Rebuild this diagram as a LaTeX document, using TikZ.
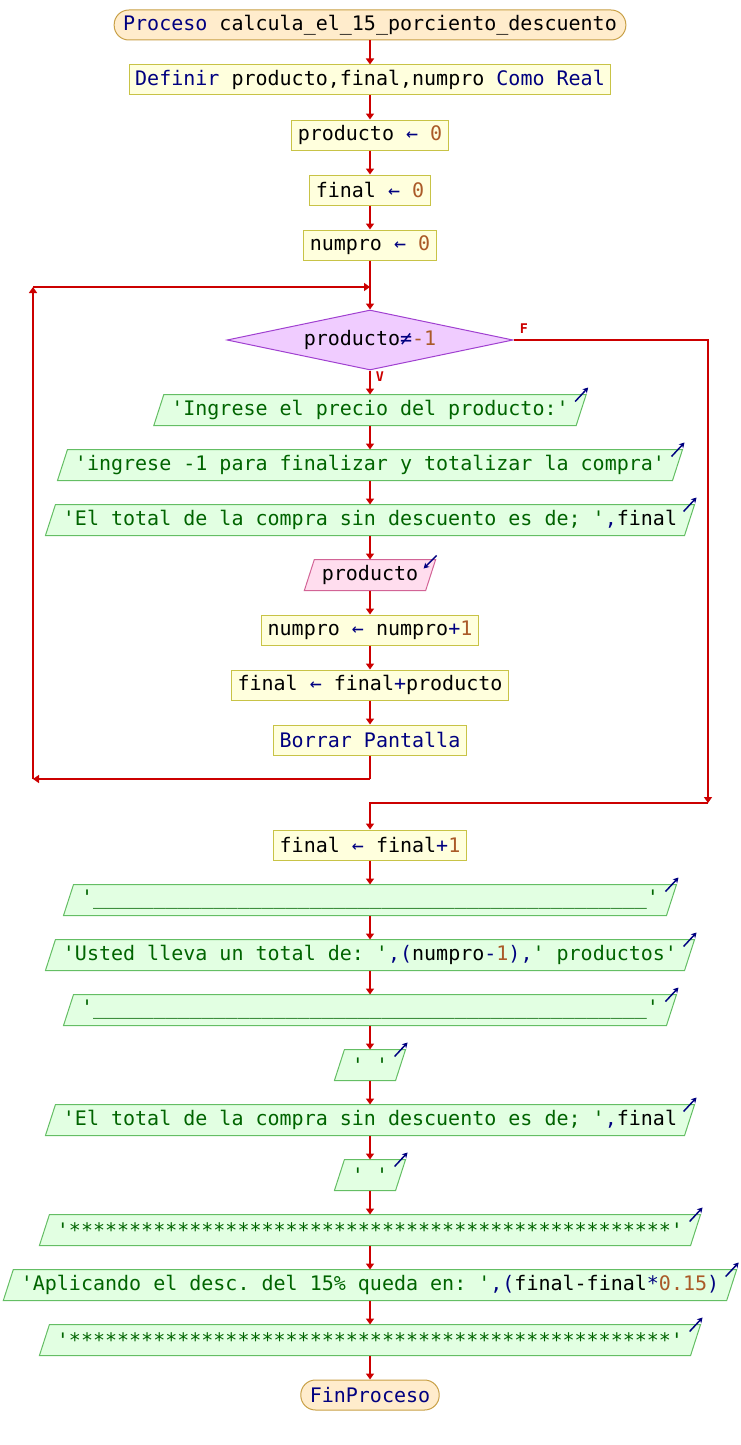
\documentclass[tikz,border=0pt]{standalone}
\usepackage{fontspec}
\setmonofont{DejaVu Sans Mono}
\usetikzlibrary{shapes.geometric,arrows.meta,backgrounds}

\definecolor{rojo}{RGB}{204,0,0}
\definecolor{azul}{RGB}{0,0,128}
\definecolor{verde}{RGB}{0,100,0}
\definecolor{marron}{RGB}{170,90,40}
\definecolor{termfondo}{RGB}{255,236,204}
\definecolor{termborde}{RGB}{200,160,70}
\definecolor{procfondo}{RGB}{255,255,221}
\definecolor{procborde}{RGB}{200,195,70}
\definecolor{salfondo}{RGB}{226,255,226}
\definecolor{salborde}{RGB}{100,190,100}
\definecolor{entfondo}{RGB}{255,221,238}
\definecolor{entborde}{RGB}{210,100,150}
\definecolor{condfondo}{RGB}{240,204,255}
\definecolor{condborde}{RGB}{160,64,208}

\newcommand{\pkw}[1]{\textcolor{azul}{#1}}
\newcommand{\pop}[1]{\textcolor{azul}{#1}}
\newcommand{\pstr}[1]{\textcolor{verde}{#1}}
\newcommand{\pnum}[1]{\textcolor{marron}{#1}}

\tikzset{
  base/.style={font=\ttfamily\fontsize{15}{18}\selectfont, inner ysep=0pt, minimum height=22.5pt, line width=0.75pt},
  term/.style={base, draw=termborde, fill=termfondo, rounded corners=11pt, inner xsep=6.75pt},
  proc/.style={base, draw=procborde, fill=procfondo, inner xsep=4.5pt},
  cond/.style={base, diamond, draw=condborde, fill=condfondo, inner sep=0pt, minimum width=214.5pt, minimum height=45pt, aspect=4.77},
  salida/.style={base, inner xsep=9pt},
  marcosal/.style={draw=salborde, fill=salfondo, line width=0.75pt},
  marcoent/.style={draw=entborde, fill=entfondo, line width=0.75pt},
  flecha/.style={draw=rojo, line width=1.5pt, -{Triangle[length=4.5pt,width=6pt]}},
  linea/.style={draw=rojo, line width=1.5pt},
  icono/.style={draw=azul, line width=1.1pt, -{Stealth[length=4pt,width=4.5pt]}},
  rama/.style={text=rojo, inner sep=0pt, font=\ttfamily\bfseries\fontsize{10}{10}\selectfont}
}

\begin{document}
\begin{tikzpicture}[x=0.75pt,y=0.75pt,yscale=-1,xscale=1]
	\useasboundingbox (0,0) rectangle (740,1445);
	
	% Proceso
	\node [term] (inicio) at (370,25) {\pkw{Proceso} calcula\_el\_15\_porciento\_descuento};
	\node [proc] (definir) at (370,80) {\pkw{Definir} producto,final,numpro \pkw{Como Real}};
	\node [proc] (asig1) at (370,135) {producto \pop{←} \pnum{0}};
	\node [proc] (asig2) at (370,190) {final \pop{←} \pnum{0}};
	\node [proc] (asig3) at (370,245) {numpro \pop{←} \pnum{0}};
	
	% Mientras
	\coordinate (junta) at (370,287);
	\node [cond] (mientras) at (370,340) {producto\pop{≠}\pnum{-1}};
	\node [rama] (ramaF) at (524,329) {F};
	\node [rama] (ramaV) at (380,377) {V};
	\node [salida] (esc1) at (370,410) {\pstr{'Ingrese el precio del producto:'}};
	\node [salida] (esc2) at (370,465) {\pstr{'ingrese -1 para finalizar y totalizar la compra'}};
	\node [salida] (esc3) at (370,520) {\pstr{'El total de la compra sin descuento es de; '}\pop{,}final};
	\node [salida] (leer) at (370,575) {producto};
	\node [proc] (asig4) at (370,630) {numpro \pop{←} numpro\pop{+}\pnum{1}};
	\node [proc] (asig5) at (370,685) {final \pop{←} final\pop{+}producto};
	\node [proc] (borrar) at (370,740) {\pkw{Borrar Pantalla}};
	\coordinate (vuelta1) at (370,779);
	\coordinate (vuelta2) at (33,779);
	\coordinate (vuelta3) at (33,287);
	\coordinate (falso1) at (708,340);
	\coordinate (falso2) at (708,803);
	\coordinate (falso3) at (370,803);
	
	% Despues del ciclo
	\node [proc] (asig6) at (370,845) {final \pop{←} final\pop{+}\pnum{1}};
	\node [salida] (esc4) at (370,900) {\pstr{'\_\_\_\_\_\_\_\_\_\_\_\_\_\_\_\_\_\_\_\_\_\_\_\_\_\_\_\_\_\_\_\_\_\_\_\_\_\_\_\_\_\_\_\_\_\_'}};
	\node [salida] (esc5) at (370,955) {\pstr{'Usted lleva un total de: '}\pop{,(}numpro\pop{-}\pnum{1}\pop{),}\pstr{' productos'}};
	\node [salida] (esc6) at (370,1010) {\pstr{'\_\_\_\_\_\_\_\_\_\_\_\_\_\_\_\_\_\_\_\_\_\_\_\_\_\_\_\_\_\_\_\_\_\_\_\_\_\_\_\_\_\_\_\_\_\_'}};
	\node [salida] (esc7) at (370,1065) {\pstr{' '}};
	\node [salida] (esc8) at (370,1120) {\pstr{'El total de la compra sin descuento es de; '}\pop{,}final};
	\node [salida] (esc9) at (370,1175) {\pstr{' '}};
	\node [salida] (esc10) at (370,1230) {\pstr{'**************************************************'}};
	\node [salida] (esc11) at (370,1285) {\pstr{'Aplicando el desc. del 15\% queda en: '}\pop{,(}final-final\pop{*}\pnum{0.15}\pop{)}};
	\node [salida] (esc12) at (370,1340) {\pstr{'**************************************************'}};
	\node [term] (fin) at (370,1395) {\pkw{FinProceso}};
	
	% Paralelogramos de escribir y leer
	\begin{scope}[on background layer]
		\foreach \n in {esc1,esc2,esc3,esc4,esc5,esc6,esc7,esc8,esc9,esc10,esc11,esc12}
			\draw [marcosal] ([xshift=-3.75pt]\n.south west) -- ([xshift=3.75pt]\n.north west) -- ([xshift=3.75pt]\n.north east) -- ([xshift=-3.75pt]\n.south east) -- cycle;
		\draw [marcoent] ([xshift=-3.75pt]leer.south west) -- ([xshift=3.75pt]leer.north west) -- ([xshift=3.75pt]leer.north east) -- ([xshift=-3.75pt]leer.south east) -- cycle;
	\end{scope}
	
	% Conectores
	\draw [flecha] (inicio) -- (definir);
	\draw [flecha] (definir) -- (asig1);
	\draw [flecha] (asig1) -- (asig2);
	\draw [flecha] (asig2) -- (asig3);
	\draw [flecha] (asig3) -- (mientras);
	\draw [flecha] (mientras) -- (esc1);
	\draw [flecha] (esc1) -- (esc2);
	\draw [flecha] (esc2) -- (esc3);
	\draw [flecha] (esc3) -- (leer);
	\draw [flecha] (leer) -- (asig4);
	\draw [flecha] (asig4) -- (asig5);
	\draw [flecha] (asig5) -- (borrar);
	\draw [linea] (borrar) -- (vuelta1);
	\draw [flecha] (vuelta1) -- (vuelta2);
	\draw [flecha] (vuelta2) -- (vuelta3);
	\draw [flecha] (vuelta3) -- (junta);
	\draw [flecha] (mientras.east) -- (falso1) -- (falso2);
	\draw [flecha] (falso2) -- (falso3) -- (asig6);
	\draw [flecha] (asig6) -- (esc4);
	\draw [flecha] (esc4) -- (esc5);
	\draw [flecha] (esc5) -- (esc6);
	\draw [flecha] (esc6) -- (esc7);
	\draw [flecha] (esc7) -- (esc8);
	\draw [flecha] (esc8) -- (esc9);
	\draw [flecha] (esc9) -- (esc10);
	\draw [flecha] (esc10) -- (esc11);
	\draw [flecha] (esc11) -- (esc12);
	\draw [flecha] (esc12) -- (fin);
	
	% Iconos de escribir y leer
	\foreach \n in {esc1,esc2,esc3,esc4,esc5,esc6,esc7,esc8,esc9,esc10,esc11,esc12}
		\draw [icono] ([shift={(-6,7)}]\n.north east) -- ([shift={(7,-7)}]\n.north east);
	\draw [icono] ([shift={(6,-4)}]leer.north east) -- ([shift={(-7,9)}]leer.north east);
	
\end{tikzpicture}
\end{document}
